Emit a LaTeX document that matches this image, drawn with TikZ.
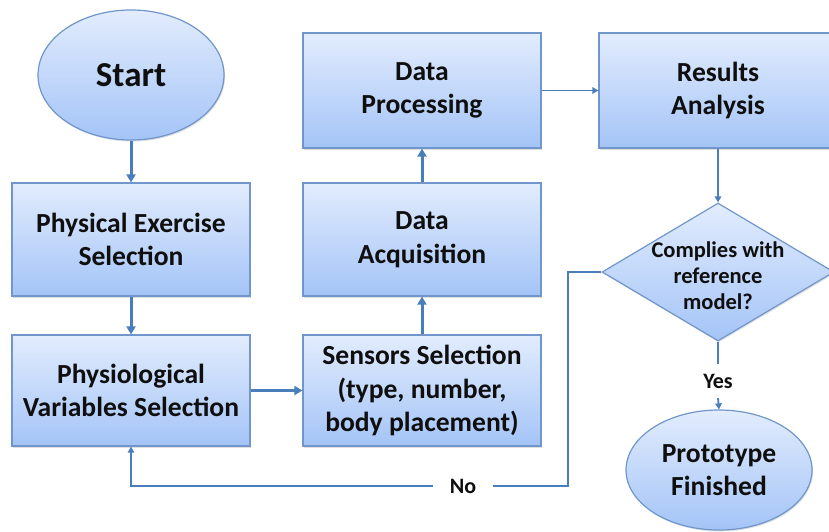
\documentclass[tikz,border=0pt]{standalone}
\usepackage{fontspec}
\setmainfont{Carlito}
\usetikzlibrary{shapes.geometric,arrows.meta,shadows}
\definecolor{boxtop}{RGB}{226,236,253}
\definecolor{boxbot}{RGB}{164,196,247}
\definecolor{boxline}{RGB}{112,150,204}
\definecolor{arrowc}{RGB}{74,126,187}
\definecolor{txt}{RGB}{15,15,15}
\begin{document}
\begin{tikzpicture}[x=1pt,y=-1pt,
  shapebase/.style={draw=boxline, line width=1.2pt, top color=boxtop, bottom color=boxbot,
    text=txt, align=center, inner sep=0pt,
    drop shadow={shadow xshift=1pt, shadow yshift=-1.5pt, opacity=0.25}},
  boxtext/.style={font=\bfseries\fontsize{27.6}{33.5}\selectfont},
  procbox/.style={shapebase, boxtext, rectangle, minimum width=238pt, minimum height=113pt},
  terminal/.style={shapebase, ellipse},
  decision/.style={shapebase, diamond, minimum width=232pt, minimum height=138pt},
  lbl/.style={text=txt, align=center, inner sep=0pt, font=\bfseries\fontsize{22}{26}\selectfont},
  thickarrow/.style={draw=arrowc, line width=3pt, -{Triangle[length=8pt,width=9pt]}},
  thinarrow/.style={draw=arrowc, line width=1.8pt, -{Triangle[length=6pt,width=6.5pt]}},
  thinline/.style={draw=arrowc, line width=1.8pt}
]
\clip (0,0) rectangle (829,532);

\node[terminal, minimum width=186pt, minimum height=130pt,
      font=\bfseries\fontsize{35}{40}\selectfont] (start) at (131,75) {Start};
\node[procbox] (pe) at (131,239.5) {Physical Exercise\\Selection};
\node[procbox, minimum height=111pt] (phys) at (131,390.5) {Physiological\\Variables Selection};
\node[procbox, minimum height=115pt] (dp) at (422,90.5) {Data\\Processing};
\node[procbox] (da) at (422,239.5) {Data\\Acquisition};
\node[procbox, minimum height=111pt] (ss) at (422,390.5) {Sensors Selection\\(type, number,\\body placement)};
\node[procbox, minimum height=115pt] (ra) at (718,90.5) {Results\\Analysis};
\node[decision] (d) at (718,272) {};
\node[lbl, font=\bfseries\fontsize{22.5}{26}\selectfont] (dtext) at (718,276) {Complies with\\reference\\model?};
\node[terminal, minimum width=186pt, minimum height=120pt, boxtext] (proto) at (719,470) {Prototype\\Finished};

\node[lbl, minimum height=34pt] (yes) at (718,381) {Yes};
\node[lbl, minimum width=60pt] (no) at (463,486) {No};
\coordinate (nocorner) at (568,486);

\draw[thickarrow] (start) -- (pe);
\draw[thickarrow] (pe) -- (phys);
\draw[thickarrow] (phys) -- (ss);
\draw[thickarrow] (ss) -- (da);
\draw[thickarrow] (da) -- (dp);
\draw[thinarrow] (dp) -- (ra);
\draw[thinarrow] (ra) -- (d);
\draw[thinline] (d.south) -- (yes.north);
\draw[thinarrow] (yes.south) -- (proto.north);
\draw[thinline] (d.west) -| (nocorner) -- (no.east);
\draw[thinarrow] (no.west) -| (phys.south);
\end{tikzpicture}
\end{document}
